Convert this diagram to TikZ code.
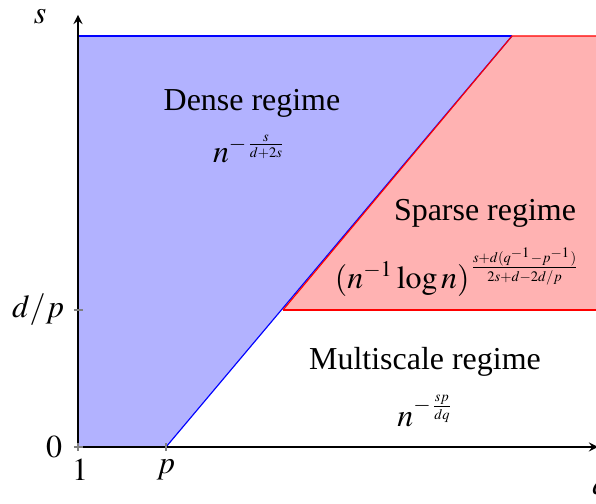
\documentclass[tikz,border=0pt]{standalone}
\usepackage{mathptmx}
\usepackage{fontspec}
\setmainfont{Liberation Serif}
\DeclareMathSizes{11}{11}{7.7}{5}

\begin{document}
\begin{tikzpicture}[
    x=0.0121cm, y=-0.0121cm,
    lbl/.style={font=\fontsize{11}{13}\selectfont, inner sep=1pt},
    zone/.style={fill=#1!30},
    edge/.style={draw=#1, thin},
    tickmark/.style={draw=gray, thin},
    axisline/.style={->, >=stealth, thin}
]
    \useasboundingbox (0,0) rectangle (596,504);

    % Points of the regions
    \coordinate (O) at (78,447);
    \coordinate (P) at (166,447);
    \coordinate (T) at (512,36);
    \coordinate (L) at (78,36);
    \coordinate (K) at (283,310);
    \coordinate (R1) at (596,36);
    \coordinate (R2) at (596,310);
    \coordinate (xend) at (598,447);
    \coordinate (yend) at (78,15);

    % Regions
    \fill[zone=blue] (O) -- (P) -- (T) -- (L) -- cycle;
    \fill[zone=red] (K) -- (T) -- (R1) -- (R2) -- cycle;
    \draw[edge=blue] (L) -- (T);
    \draw[edge=blue] (P) -- (T);
    \draw[edge=red] (K) -- (T) -- (R1);
    \draw[edge=red] (K) -- (R2);

    % Axes
    \draw[axisline] (O) -- (xend);
    \draw[axisline] (O) -- (yend);
    \draw[tickmark] (78,443) -- (78,451);
    \draw[tickmark] (166,443) -- (166,451);
    \draw[tickmark] (74,447) -- (83,447);
    \draw[tickmark] (74,310) -- (83,310);

    % Axis labels
    \node[lbl] (slabel) at (40,17) {$s$};
    \node[lbl] (qlabel) at (600,491) {$q$};
    \node[lbl] (xone) at (80,470) {$1$};
    \node[lbl] (xp) at (166,470) {$p$};
    \node[lbl] (yzero) at (54,447) {$0$};
    \node[lbl] (ydp) at (38,310) {$d/p$};

    % Regime labels
    \node[lbl] (dense) at (252,103) {Dense regime};
    \node[lbl] (denserate) at (250,149) {$n^{-\frac{s}{d+2s}}$};
    \node[lbl] (sparse) at (485,213) {Sparse regime};
    \node[lbl] (sparserate) at (458,272) {$(n^{-1}\log n)^{\frac{s+d(q^{-1}-p^{-1})}{2s+d-2d/p}}$};
    \node[lbl] (multi) at (425,362) {Multiscale regime};
    \node[lbl] (multirate) at (426,411) {$n^{-\frac{sp}{dq}}$};
\end{tikzpicture}
\end{document}
